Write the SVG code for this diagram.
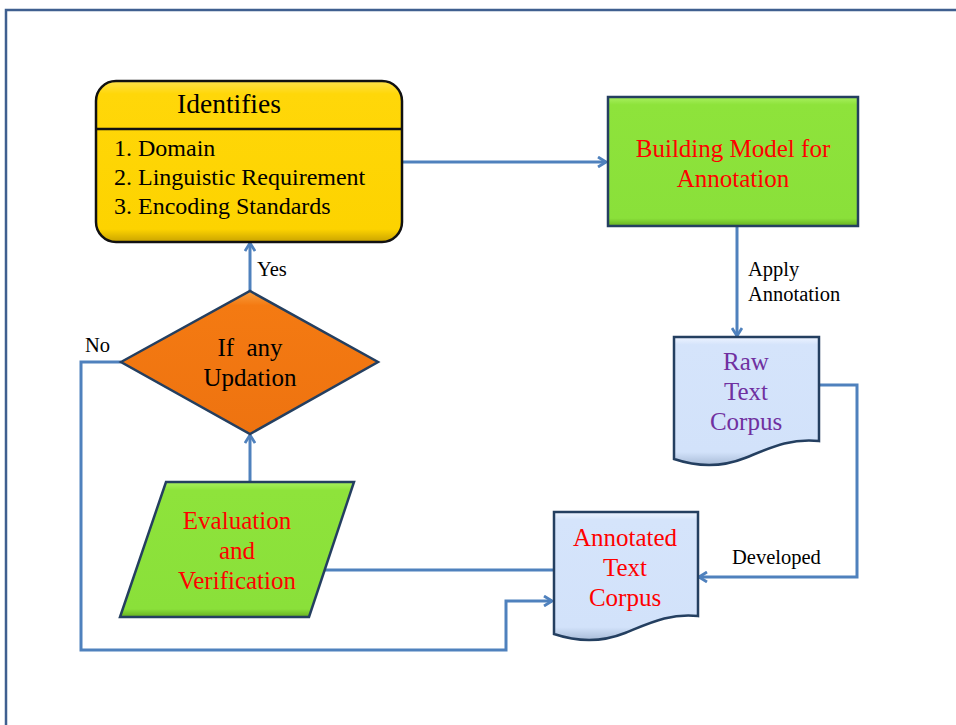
<svg xmlns="http://www.w3.org/2000/svg" width="956" height="725" viewBox="0 0 956 725" font-family="'Liberation Serif', 'Times New Roman', 'DejaVu Serif', serif">
<defs>
<marker id="arr" viewBox="0 0 12 12" refX="10" refY="6" markerWidth="12" markerHeight="12" markerUnits="userSpaceOnUse" orient="auto">
<path d="M2,1 L10,6 L2,11" fill="none" stroke="#4f81bd" stroke-width="2.8"/>
</marker>
<linearGradient id="gGold" x1="0" y1="0" x2="0" y2="1"><stop offset="0" stop-color="#ffe24a"/><stop offset="0.08" stop-color="#ffd709"/><stop offset="0.92" stop-color="#fdd300"/><stop offset="1" stop-color="#c9a300"/></linearGradient>
<linearGradient id="gGreen" x1="0" y1="0" x2="0" y2="1"><stop offset="0" stop-color="#a8f060"/><stop offset="0.06" stop-color="#8ee33b"/><stop offset="0.94" stop-color="#8ae03a"/><stop offset="1" stop-color="#66b020"/></linearGradient>
<linearGradient id="gOrange" x1="0" y1="0" x2="0" y2="1"><stop offset="0" stop-color="#f9a040"/><stop offset="0.1" stop-color="#f47a12"/><stop offset="1" stop-color="#ee7310"/></linearGradient>
<linearGradient id="gBlue" x1="0" y1="0" x2="0" y2="1"><stop offset="0" stop-color="#eef4ff"/><stop offset="0.06" stop-color="#d5e4fb"/><stop offset="0.9" stop-color="#d2e2fa"/><stop offset="1" stop-color="#a9bcd8"/></linearGradient>
</defs>
<style>
text{font-family:'Liberation Serif','Times New Roman','DejaVu Serif',serif;}
.conn{fill:none;stroke:#4f81bd;stroke-width:3;}
.lbl{font-size:20.5px;fill:#000;}
.node{stroke:#243f60;stroke-width:2.5;}
.big{font-size:25px;text-anchor:middle;}
.red{fill:#ff0000;}
.li{font-size:24px;fill:#000;}
</style>
<rect width="956" height="725" fill="#ffffff"/>
<g id="frame">
<path d="M6,725 V10 H956" fill="none" stroke="#3f5f8f" stroke-width="2.5"/>
</g>
<g id="connectors">
<path class="conn" d="M402,162 H606" marker-end="url(#arr)"/>
<path class="conn" d="M737,226 V336" marker-end="url(#arr)"/>
<path class="conn" d="M819,385 H857 V577 H699" marker-end="url(#arr)"/>
<path class="conn" d="M324,570 H554"/>
<path class="conn" d="M250,482 V435" marker-end="url(#arr)"/>
<path class="conn" d="M250,291 V243" marker-end="url(#arr)"/>
<path class="conn" d="M121,362 H81 V650 H506 V601 H552" marker-end="url(#arr)"/>
<text class="lbl" x="748" y="276">Apply</text>
<text class="lbl" x="748" y="301">Annotation</text>
<text class="lbl" x="732" y="564">Developed</text>
<text class="lbl" x="257" y="276">Yes</text>
<text class="lbl" x="85" y="352">No</text>
</g>
<g id="identifies">
<rect x="96" y="81" width="306" height="161" rx="20" ry="20" fill="url(#gGold)" stroke="#111" stroke-width="2.5"/>
<line x1="96" y1="129" x2="402" y2="129" stroke="#111" stroke-width="2.5"/>
<text x="229" y="113" font-size="27.5" text-anchor="middle" fill="#000">Identifies</text>
<text class="li" x="114" y="156">1. Domain</text>
<text class="li" x="114" y="185">2. Linguistic Requirement</text>
<text class="li" x="114" y="214">3. Encoding Standards</text>
</g>
<g id="building">
<rect class="node" x="608" y="97" width="250" height="129" fill="url(#gGreen)"/>
<text class="big red" x="733" y="157">Building Model for</text>
<text class="big red" x="733" y="187">Annotation</text>
</g>
<g id="raw">
<path class="node" d="M674,337 H819 V441 C790,438 770,448 745,458 C720,468 695,466 674,459 Z" fill="url(#gBlue)"/>
<text class="big" x="746" y="370" fill="#7030a0">Raw</text>
<text class="big" x="746" y="400" fill="#7030a0">Text</text>
<text class="big" x="746" y="430" fill="#7030a0">Corpus</text>
</g>
<g id="annotated">
<path class="node" d="M554,512 H698 V616 C670,613 650,623 625,633 C600,643 575,641 554,634 Z" fill="url(#gBlue)"/>
<text class="big red" x="625" y="546">Annotated</text>
<text class="big red" x="625" y="576">Text</text>
<text class="big red" x="625" y="606">Corpus</text>
</g>
<g id="evaluation">
<polygon class="node" points="166,482 354,482 309,617 120,617" fill="url(#gGreen)"/>
<text class="big red" x="237" y="529">Evaluation</text>
<text class="big red" x="237" y="559">and</text>
<text class="big red" x="237" y="589">Verification</text>
</g>
<g id="decision">
<polygon class="node" points="121,362 250,291 378,362 250,434" fill="url(#gOrange)"/>
<text class="big" x="250" y="356" fill="#000" xml:space="preserve">If  any</text>
<text class="big" x="250" y="386" fill="#000">Updation</text>
</g>
</svg>
